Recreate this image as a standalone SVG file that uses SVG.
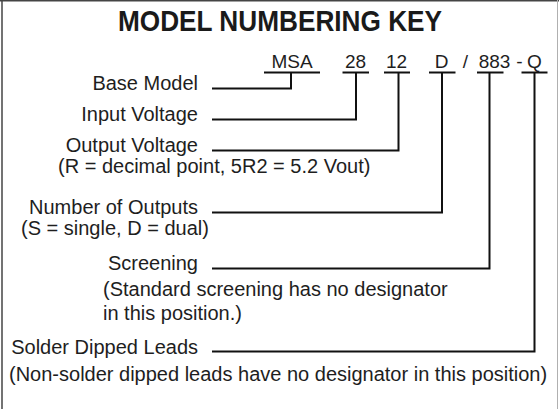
<svg xmlns="http://www.w3.org/2000/svg" width="559" height="409" viewBox="0 0 559 409">
<style>
  text { font-family: "Liberation Sans", Arial, sans-serif; fill: #1e1e1e; }
  .title { font-size: 30px; font-weight: bold; text-anchor: middle; fill: #1a1a1a; }
  .code { font-size: 19px; text-anchor: middle; }
  .lbl { font-size: 20px; text-anchor: end; }
  .sub { font-size: 20px; text-anchor: start; }
  .ln { fill: none; stroke: #111; stroke-width: 2; stroke-linejoin: miter; stroke-linecap: butt; }
</style>
<rect x="0" y="0" width="559" height="409" fill="#ffffff"/>
<g id="frame">
  <line x1="0" y1="0.75" x2="559" y2="0.75" stroke="#444" stroke-width="1.5"/>
  <line x1="2" y1="0" x2="2" y2="409" stroke="#444" stroke-width="1.5"/>
  <line x1="557.5" y1="0" x2="557.5" y2="409" stroke="#b0b0b0" stroke-width="1"/>
</g>
<text id="title" class="title" x="280" y="30.5" textLength="324" lengthAdjust="spacingAndGlyphs">MODEL NUMBERING KEY</text>
<g id="code">
  <text class="code" x="292" y="67.5">MSA</text>
  <text class="code" x="355.5" y="67.5">28</text>
  <text class="code" x="396.5" y="67.5">12</text>
  <text class="code" x="441.5" y="67.5">D</text>
  <text class="code" x="465.5" y="67.5">/</text>
  <text class="code" x="494.5" y="67.5">883</text>
  <text class="code" x="519.5" y="67.5">-</text>
  <text class="code" x="534.5" y="67.5">Q</text>
</g>
<g id="base-model">
  <text class="lbl" x="198" y="89.5">Base Model</text>
</g>
<g id="input-voltage">
  <text class="lbl" x="198" y="120.5">Input Voltage</text>
</g>
<g id="output-voltage">
  <text class="lbl" x="198" y="152">Output Voltage</text>
  <text class="sub" x="58" y="172.5">(R = decimal point, 5R2 = 5.2 Vout)</text>
</g>
<g id="number-of-outputs">
  <text class="lbl" x="198" y="213.5">Number of Outputs</text>
  <text class="sub" x="21" y="234.5">(S = single, D = dual)</text>
</g>
<g id="screening">
  <text class="lbl" x="198" y="269.5">Screening</text>
  <text class="sub" x="103" y="296">(Standard screening has no designator</text>
  <text class="sub" x="103" y="320">in this position.)</text>
</g>
<g id="solder-dipped-leads">
  <text class="lbl" x="198" y="353.5">Solder Dipped Leads</text>
  <text class="sub" x="9" y="381">(Non-solder dipped leads have no designator in this position)</text>
</g>
<g id="connectors">
  <line class="ln" x1="264" y1="72.5" x2="320" y2="72.5"/>
  <line class="ln" x1="342.5" y1="72.5" x2="369" y2="72.5"/>
  <line class="ln" x1="384" y1="72.5" x2="410" y2="72.5"/>
  <line class="ln" x1="429" y1="72.5" x2="455.5" y2="72.5"/>
  <line class="ln" x1="477" y1="72.5" x2="503.5" y2="72.5"/>
  <line class="ln" x1="521.5" y1="72.5" x2="547.5" y2="72.5"/>
  <polyline class="ln" points="212,88.5 291,88.5 291,72.5"/>
  <polyline class="ln" points="212,119.5 356,119.5 356,72.5"/>
  <polyline class="ln" points="212,150.5 398.5,150.5 398.5,72.5"/>
  <polyline class="ln" points="212,212.5 442,212.5 442,72.5"/>
  <polyline class="ln" points="212,268.5 489.5,268.5 489.5,72.5"/>
  <polyline class="ln" points="212,351.5 534.5,351.5 534.5,72.5"/>
</g>
</svg>
